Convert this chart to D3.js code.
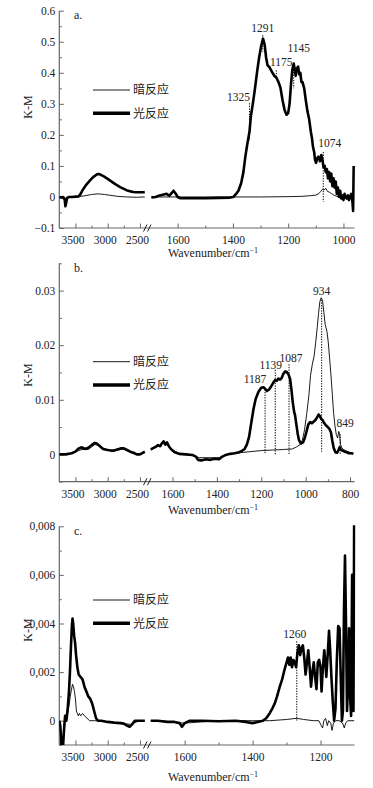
<!DOCTYPE html>
<html><head><meta charset="utf-8">
<script src="https://cdn.jsdelivr.net/npm/d3@7"></script>
<style>body{margin:0;background:#fff}svg{display:block}
svg text{font-family:"Liberation Serif","Times New Roman",serif}
svg text.cjk{font-family:"Noto Sans CJK SC","Noto Sans",sans-serif}</style>
</head><body>
<script>
// ---------------- DATA ----------------
const seriesNames = ["暗反应", "光反应"];
const xTitle = "Wavenumber/cm";
const panelLetters = ["a.", "b.", "c."];

const leftTicksMajor = [3500, 3000, 2500];
const leftTicksMinor = [3250, 2750];

// Panel a
const aYMajor = [-0.1, 0, 0.1, 0.2, 0.3, 0.4, 0.5, 0.6];
const aXMajor = [1600, 1400, 1200, 1000];
const aXMinor = [1500, 1300, 1100];
const aDarkLeft = [[3750,0],[3700,-0.003],[3660,-0.005],[3630,-0.002],[3550,0],[3450,0.001],[3350,0.004],[3250,0.008],[3150,0.01],[3050,0.008],[2950,0.005],[2850,0.002],[2700,0],[2550,-0.001],[2425,0]];
const aLightLeft = [[3750,0],[3720,-0.002],[3690,0],[3665,-0.01],[3655,-0.03],[3645,-0.02],[3630,-0.004],[3600,0],[3550,0],[3500,0.001],[3450,0.002],[3420,0.01],[3380,0.025],[3330,0.04],[3280,0.052],[3230,0.063],[3180,0.071],[3150,0.074],[3120,0.073],[3060,0.066],[3000,0.058],[2950,0.051],[2900,0.044],[2850,0.037],[2800,0.031],[2750,0.026],[2700,0.021],[2650,0.018],[2600,0.016],[2550,0.015],[2500,0.015],[2450,0.015],[2425,0.016]];
const aDarkRight = [[1695,0],[1600,0],[1500,0],[1400,0],[1300,0],[1200,0.001],[1150,0.002],[1120,0.004],[1100,0.006],[1090,0.01],[1082,0.018],[1076,0.025],[1070,0.022],[1064,0.028],[1058,0.018],[1050,0.015],[1042,0.01],[1035,0.006],[1025,0.002],[1015,0],[1000,-0.003],[990,-0.002],[980,-0.006],[970,-0.003],[965,-0.02],[963,0]];
const aLightRight = [[1695,-0.002],[1680,0],[1665,0.005],[1650,0.008],[1640,0.01],[1630,0.004],[1622,0.012],[1615,0.02],[1608,0.012],[1600,0],[1590,-0.004],[1560,-0.004],[1500,-0.004],[1450,-0.003],[1410,-0.002],[1398,0],[1390,0.008],[1380,0.02],[1370,0.045],[1362,0.08],[1355,0.13],[1348,0.17],[1340,0.21],[1335,0.26],[1328,0.3],[1320,0.35],[1313,0.4],[1305,0.45],[1298,0.485],[1291,0.51],[1285,0.49],[1280,0.45],[1275,0.425],[1268,0.418],[1260,0.405],[1250,0.39],[1243,0.385],[1235,0.37],[1228,0.352],[1220,0.31],[1213,0.28],[1206,0.265],[1200,0.27],[1195,0.3],[1190,0.36],[1185,0.41],[1180,0.43],[1176,0.41],[1173,0.39],[1168,0.415],[1164,0.42],[1160,0.395],[1156,0.4],[1152,0.37],[1148,0.37],[1142,0.35],[1136,0.31],[1130,0.275],[1124,0.25],[1118,0.21],[1114,0.19],[1110,0.16],[1106,0.145],[1103,0.12],[1099,0.11],[1095,0.125],[1090,0.13],[1085,0.115],[1080,0.135],[1076,0.12],[1072,0.095],[1068,0.1],[1064,0.08],[1060,0.09],[1056,0.06],[1052,0.08],[1048,0.05],[1044,0.075],[1040,0.035],[1036,0.06],[1032,0.03],[1028,0.05],[1024,0.01],[1020,0.03],[1016,0],[1012,0.02],[1008,-0.005],[1004,0.005],[1000,-0.01],[996,0.01],[992,0],[988,-0.005],[984,0.005],[980,-0.01],[976,0],[972,0.01],[968,-0.01],[965,-0.045],[963,0.1]];
const aPeakLabels = ["1325","1291","1175","1145","1074"];
const aPeakWn = [1340,1292,1243,1180,1073];
const aPeakTop = [0.302,0.521,0.408,0.419,0.145];
const aPeakBottom = [0.183,0.468,0.382,0.35,-0.016];

// Panel b
const bYMajor = [0, 0.01, 0.02, 0.03];
const bXMajor = [1600, 1400, 1200, 1000, 800];
const bXMinor = [1500, 1300, 1100, 900];
const bDarkLeft = [[3750,0],[3650,0],[3550,0.0002],[3450,0.0007],[3400,0.0009],[3300,0.0009],[3200,0.0018],[3150,0.0017],[3050,0.0009],[2950,0.0007],[2850,0.0008],[2750,0.001],[2650,0.0004],[2550,0],[2425,0.0003]];
const bLightLeft = [[3750,0],[3650,0],[3560,0.0002],[3500,0.0005],[3450,0.0011],[3400,0.0013],[3350,0.001],[3300,0.0012],[3250,0.0017],[3200,0.0021],[3170,0.002],[3120,0.0015],[3070,0.001],[3000,0.0008],[2950,0.0007],[2900,0.0007],[2850,0.0009],[2800,0.0011],[2750,0.0011],[2700,0.0008],[2650,0.0005],[2600,0.0003],[2550,0],[2500,0],[2470,0.0002],[2425,0.0005]];
const bDarkRight = [[1698,0.0008],[1680,0.0012],[1660,0.0016],[1645,0.0022],[1630,0.0019],[1615,0.0014],[1600,0.0008],[1570,0.0002],[1530,-0.0001],[1500,-0.0003],[1480,-0.0006],[1450,-0.0006],[1420,-0.0006],[1390,-0.0006],[1370,-0.0002],[1340,0.0001],[1300,0.0003],[1250,0.0005],[1200,0.0007],[1150,0.0008],[1100,0.0009],[1060,0.001],[1040,0.0014],[1025,0.0018],[1015,0.0026],[1005,0.0045],[995,0.0075],[985,0.011],[978,0.0145],[970,0.0165],[962,0.018],[955,0.0205],[948,0.0232],[942,0.0258],[936,0.028],[930,0.0287],[924,0.0282],[918,0.026],[912,0.0238],[904,0.0225],[898,0.0205],[892,0.0175],[886,0.0145],[880,0.011],[874,0.0075],[868,0.0052],[862,0.0036],[856,0.003],[851,0.0042],[847,0.0038],[843,0.0018],[836,0.0011],[825,0.0008],[810,0.0005],[795,0.0003],[785,0.0002]];
const bLightRight = [[1698,0.0009],[1685,0.0012],[1675,0.0014],[1665,0.0017],[1655,0.0015],[1648,0.002],[1640,0.0024],[1632,0.0018],[1625,0.0022],[1615,0.0014],[1605,0.0009],[1590,0.0004],[1570,0.0001],[1540,0],[1510,-0.0001],[1495,-0.0004],[1485,-0.001],[1470,-0.0011],[1450,-0.0009],[1430,-0.001],[1410,-0.0008],[1390,-0.0009],[1375,-0.0004],[1360,-0.0001],[1340,0.0001],[1320,0.0002],[1300,0.0004],[1285,0.0007],[1275,0.001],[1265,0.0018],[1255,0.0032],[1245,0.0058],[1235,0.0083],[1225,0.0102],[1212,0.0115],[1200,0.0122],[1190,0.0123],[1182,0.012],[1175,0.0116],[1165,0.0119],[1155,0.0125],[1145,0.0132],[1138,0.0136],[1130,0.0135],[1123,0.0139],[1115,0.0137],[1108,0.014],[1100,0.0148],[1092,0.0152],[1085,0.0151],[1078,0.0147],[1070,0.0138],[1064,0.0118],[1058,0.0095],[1052,0.0078],[1048,0.0072],[1042,0.0055],[1036,0.0038],[1030,0.0026],[1022,0.002],[1012,0.0022],[1004,0.003],[996,0.0042],[988,0.0055],[980,0.0059],[972,0.0057],[964,0.006],[956,0.0063],[948,0.0068],[942,0.0073],[936,0.007],[930,0.0065],[924,0.0063],[916,0.0057],[908,0.0053],[900,0.005],[892,0.0046],[886,0.004],[880,0.0025],[874,0.0012],[866,0.0004],[858,0.0003],[852,0.0008],[847,0.0013],[842,0.0009],[835,0.0007],[825,0.0005],[815,0.0004],[805,0.0002],[795,0.0002],[785,0.0001]];
const bPeakLabels = ["1187","1139","1087","934","849"];
const bPeakWn = [1183,1137,1075,928,845];
const bPeakTop = [0.0119,0.0155,0.0165,0.0283,0.0037];
const bPeakBottom = [0,0,0,0.0005,0];

// Panel c
const cYMajor = [0, 0.002, 0.004, 0.006, 0.008];
const cXMajor = [1600, 1400, 1200];
const cXMinor = [1500, 1300];
const cDarkLeft = [[3750,0],[3735,-0.0003],[3720,-0.001],[3705,-0.0014],[3690,-0.0008],[3670,0],[3640,0],[3620,0.0003],[3600,0.0006],[3580,0.001],[3560,0.0013],[3545,0.0015],[3530,0.0014],[3515,0.0012],[3500,0.0009],[3485,0.0004],[3470,0.0003],[3455,0.0002],[3440,0.0003],[3420,0.0002],[3390,0.0003],[3360,0.0002],[3320,0.0001],[3280,0],[3200,0],[3000,-0.00005],[2800,-0.0001],[2650,-0.00015],[2500,0],[2425,0]];
const cLightLeft = [[3750,0],[3735,-0.0002],[3720,-0.0008],[3710,-0.0015],[3695,-0.0012],[3680,-0.0005],[3660,0.0002],[3640,0],[3620,0.0005],[3600,0.0012],[3585,0.002],[3570,0.003],[3555,0.0039],[3545,0.0042],[3535,0.004],[3520,0.0035],[3505,0.0032],[3490,0.0027],[3470,0.0022],[3450,0.0019],[3420,0.0018],[3390,0.0017],[3360,0.0014],[3330,0.0012],[3300,0.001],[3270,0.0009],[3240,0.0007],[3210,0.0004],[3180,0.0001],[3150,0],[3100,0],[3000,-0.00005],[2900,-0.00008],[2800,-0.0001],[2750,-0.00012],[2700,-0.0002],[2660,-0.00025],[2620,-0.00015],[2580,0],[2500,0],[2425,0]];
const cDarkRight = [[1700,0],[1600,-0.0001],[1500,0],[1400,0],[1350,0],[1300,0.00005],[1270,0.0001],[1250,0.00005],[1220,0],[1205,0],[1198,-0.0002],[1194,-0.0003],[1190,0],[1185,0.0001],[1180,-0.0002],[1176,0],[1170,-0.0001],[1166,-0.0004],[1162,-0.0001],[1155,0],[1145,0],[1135,-0.0001],[1130,-0.0003],[1126,-0.0001],[1120,0],[1110,0],[1101,0]];
const cLightRight = [[1700,0],[1680,0],[1650,-0.00005],[1630,-0.00005],[1615,-0.0001],[1608,-0.00025],[1600,-0.0001],[1585,0],[1550,0],[1500,-0.00002],[1450,0],[1420,-0.00005],[1400,-0.0001],[1385,-0.00005],[1370,0],[1360,0.0001],[1350,0.0003],[1342,0.0005],[1335,0.0007],[1328,0.001],[1320,0.0014],[1313,0.0017],[1306,0.0021],[1300,0.0024],[1296,0.0026],[1292,0.0023],[1288,0.0026],[1284,0.0022],[1280,0.0025],[1276,0.0024],[1272,0.0022],[1268,0.0028],[1264,0.0031],[1260,0.0027],[1256,0.003],[1252,0.0031],[1248,0.0026],[1244,0.0019],[1240,0.0024],[1236,0.0029],[1232,0.0022],[1228,0.0014],[1224,0.002],[1220,0.0024],[1216,0.0018],[1212,0.0013],[1208,0.0024],[1204,0.0025],[1200,0.0022],[1197,0.0012],[1193,0.0022],[1189,0.0029],[1186,0.0024],[1183,0.0018],[1179,0.0027],[1175,0.0037],[1172,0.003],[1168,0.0018],[1164,0.0008],[1160,0],[1156,0.0005],[1152,0.0025],[1148,0.0039],[1144,0.0038],[1140,0.0015],[1137,0],[1134,0.0004],[1131,0.0045],[1128,0.0068],[1125,0.004],[1122,0.0004],[1119,0.0015],[1116,0.0038],[1113,0.001],[1110,0.0002],[1107,0.006],[1105,0.0015],[1103,0.0004],[1101,0.0085]];
const cPeakLabels = ["1260"];
const cPeakWn = [1270];
const cPeakTop = [0.00327];
const cPeakBottom = [0];

// ---------------- LAYOUT ----------------
const W = 373, H = 788;
const axisColor = "#666";
const xL0 = 59.3, xL1 = 145.1, xR1 = 354.5;

const panels = [
  { letter: panelLetters[0], yDomain: [-0.1, 0.6], yRange: [228, 10.7], yMajor: aYMajor, yMinorStep: 0.05, fmt: d => d < 0 ? "\u2212" + Math.abs(d).toFixed(1) : (d === 0 ? "0" : d.toFixed(1)),
    rDomain: [1700, 960], rStart: 150, xMajor: aXMajor, xMinor: aXMinor,
    dark: [aDarkLeft, aDarkRight], light: [aLightLeft, aLightRight],
    peaks: { labels: aPeakLabels, wn: aPeakWn, top: aPeakTop, bottom: aPeakBottom, dx: [-11, 0, 5, 5, 6.6], dy: [-2, -3, -4, -15, -4.7] },
    legendY: 90, kmY: 107, titleY: 257 },
  { letter: panelLetters[1], yDomain: [-0.005, 0.035], yRange: [481.7, 263.3], yMajor: bYMajor, yMinorStep: 0.005, fmt: d => d === 0 ? "0" : d.toFixed(2),
    rDomain: [1700, 780], rStart: 150.3, xMajor: bXMajor, xMinor: bXMinor,
    dark: [bDarkLeft, bDarkRight], light: [bLightLeft, bLightRight],
    peaks: { labels: bPeakLabels, wn: bPeakWn, top: bPeakTop, bottom: bPeakBottom, dx: [-10, -4.5, 2, 0, 5], dy: [-6, -1, -2, -5, -7] },
    legendY: 361.7, kmY: 375, titleY: 514 },
  { letter: panelLetters[2], yDomain: [-0.001, 0.008], yRange: [745, 526.3], yMajor: cYMajor, yMinorStep: 0.001, fmt: d => d === 0 ? "0" : d.toFixed(3).replace(".", ","),
    rDomain: [1700, 1100], rStart: 150.7, xMajor: cXMajor, xMinor: cXMinor,
    dark: [cDarkLeft, cDarkRight], light: [cLightLeft, cLightRight],
    peaks: { labels: cPeakLabels, wn: cPeakWn, top: cPeakTop, bottom: cPeakBottom, dx: [-2], dy: [-3] },
    legendY: 600, kmY: 630, titleY: 781 }
];

const svg = d3.select("body").append("svg").attr("width", W).attr("height", H);

panels.forEach((p, i) => {
  const g = svg.append("g");
  const y = d3.scaleLinear().domain(p.yDomain).range(p.yRange);
  const xL = d3.scaleLinear().domain([3750, 2420]).range([xL0, xL1]);
  const xR = d3.scaleLinear().domain(p.rDomain).range([p.rStart, xR1]);
  const yBase = p.yRange[0], yTop = p.yRange[1];

  const clipId = "clip" + i;
  svg.append("clipPath").attr("id", clipId).append("rect")
    .attr("x", xL0).attr("y", yTop - 1).attr("width", xR1 - xL0 + 1).attr("height", yBase - yTop + 1);

  // y axis
  const yMinor = d3.range(p.yDomain[0], p.yDomain[1] + 1e-9, p.yMinorStep).filter(v => !p.yMajor.some(m => Math.abs(m - v) < 1e-9));
  const yAx = g.append("g").attr("transform", `translate(${xL0},0)`)
    .call(d3.axisLeft(y).tickValues(p.yMajor).tickSize(-4.5).tickPadding(4).tickFormat(p.fmt));
  const yAxMinor = g.append("g").attr("transform", `translate(${xL0},0)`)
    .call(d3.axisLeft(y).tickValues(yMinor).tickSize(-2.5).tickFormat(""));
  [yAx, yAxMinor].forEach(a => { a.attr("font-family", null); a.select(".domain").remove(); a.selectAll("line").attr("stroke", axisColor); });
  yAx.selectAll("text").attr("font-size", 11.5).attr("fill", "#222");
  g.append("line").attr("x1", xL0).attr("x2", xL0).attr("y1", yTop).attr("y2", yBase).attr("stroke", axisColor).attr("stroke-width", 1.2);

  // x axes
  const xAxL = g.append("g").attr("transform", `translate(0,${yBase})`)
    .call(d3.axisBottom(xL).tickValues(leftTicksMajor).tickSize(-4.5).tickPadding(8).tickFormat(d3.format("d")));
  const xAxLm = g.append("g").attr("transform", `translate(0,${yBase})`)
    .call(d3.axisBottom(xL).tickValues(leftTicksMinor).tickSize(-2.5).tickFormat(""));
  const xAxR = g.append("g").attr("transform", `translate(0,${yBase})`)
    .call(d3.axisBottom(xR).tickValues(p.xMajor).tickSize(-4.5).tickPadding(8).tickFormat(d3.format("d")));
  const xAxRm = g.append("g").attr("transform", `translate(0,${yBase})`)
    .call(d3.axisBottom(xR).tickValues(p.xMinor).tickSize(-2.5).tickFormat(""));
  [xAxL, xAxLm, xAxR, xAxRm].forEach(a => { a.attr("font-family", null); a.select(".domain").remove(); a.selectAll("line").attr("stroke", axisColor); });
  [xAxL, xAxR].forEach(a => a.selectAll("text").attr("font-size", 11.5).attr("fill", "#222"));
  xAxL.selectAll("text").attr("dx", -3);
  g.append("line").attr("x1", xL0).attr("x2", xR1).attr("y1", yBase).attr("y2", yBase).attr("stroke", axisColor).attr("stroke-width", 1.2);
  // break marks
  [145, 149].forEach(bx => {
    g.append("line").attr("x1", bx - 1.5).attr("x2", bx + 2).attr("y1", yBase + 3.5).attr("y2", yBase - 3.5)
      .attr("stroke", "#222").attr("stroke-width", 1);
  });

  // lines
  const plot = g.append("g").attr("clip-path", `url(#${clipId})`);
  const lineL = d3.line().x(d => xL(d[0])).y(d => y(d[1]));
  const lineR = d3.line().x(d => xR(d[0])).y(d => y(d[1]));
  [[p.dark, 0.9], [p.light, 2.6]].forEach(([segs, w]) => {
    plot.append("path").datum(segs[0]).attr("d", lineL).attr("fill", "none").attr("stroke", "#000").attr("stroke-width", w).attr("stroke-linejoin", "round");
    plot.append("path").datum(segs[1]).attr("d", lineR).attr("fill", "none").attr("stroke", "#000").attr("stroke-width", w).attr("stroke-linejoin", "round");
  });

  // peak annotations
  const pk = p.peaks;
  pk.labels.forEach((lab, k) => {
    const px = xR(pk.wn[k]);
    g.append("line").attr("x1", px).attr("x2", px).attr("y1", y(pk.top[k])).attr("y2", y(pk.bottom[k]))
      .attr("stroke", "#000").attr("stroke-width", 1).attr("stroke-dasharray", "1.3,1.3");
    g.append("text").attr("x", px + pk.dx[k]).attr("y", y(pk.top[k]) + pk.dy[k])
      .attr("text-anchor", "middle").attr("font-size", 11.5).attr("fill", "#222").text(lab);
  });

  // panel letter
  g.append("text").attr("x", 74).attr("y", yTop + 8.5).attr("font-size", 12).attr("fill", "#222").text(p.letter);

  // legend
  [[0.9, 0], [3.5, 1]].forEach(([w, k]) => {
    const ly = p.legendY + k * 23.3;
    g.append("line").attr("x1", 93).attr("x2", 130).attr("y1", ly).attr("y2", ly).attr("stroke", "#000").attr("stroke-width", w);
    g.append("text").attr("class", "cjk").attr("x", 133).attr("y", ly + 4.3).attr("font-size", 12).attr("fill", "#222").text(seriesNames[k]);
  });

  // axis titles
  g.append("text").attr("transform", `translate(32,${p.kmY}) rotate(-90)`).attr("text-anchor", "middle")
    .attr("font-size", 12).attr("fill", "#222").text("K-M");
  const t = g.append("text").attr("x", 213).attr("y", p.titleY).attr("text-anchor", "middle").attr("font-size", 12).attr("fill", "#222");
  t.append("tspan").text(xTitle);
  t.append("tspan").attr("dy", -4).attr("font-size", 8).text("\u22121");
});
</script>
</body></html>
